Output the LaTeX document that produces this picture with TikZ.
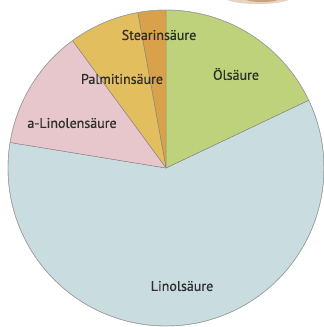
\documentclass[tikz,border=0pt]{standalone}
\usepackage{fontspec}
\setmainfont{PT Sans}
\newfontfamily\lblfont[FakeBold=0.6]{PT Sans}
\begin{document}
\begin{tikzpicture}[x=1pt,y=1pt,
  slice/.style={draw=black!50, line width=0.4pt, line join=round},
  lbl/.style={font=\lblfont\fontsize{14}{16}\selectfont, text=black!82, inner sep=0pt}]
\useasboundingbox (0,0) rectangle (324,327);
\fill[white] (0,0) rectangle (324,327);
\definecolor{linol}{HTML}{C9DDE0}
\definecolor{oel}{HTML}{BDD27A}
\definecolor{alin}{HTML}{E8C7CC}
\definecolor{palm}{HTML}{E3BE5E}
\definecolor{stear}{HTML}{D9A24A}
\definecolor{brownblur}{HTML}{B88150}
% faint cropped photo fragment at top
\begin{scope}
\clip (0,0) rectangle (324,327);
\fill[brownblur, opacity=0.35] (258,330) ellipse (34 and 7);
\fill[brownblur, opacity=0.6] (262,329) ellipse (18 and 4);
\end{scope}
\coordinate (c) at (166,159);
\def\R{158}
\fill[linol, slice] (c) -- ++(170.7:\R) arc (170.7:385.4:\R) -- cycle;
\fill[oel, slice] (c) -- ++(25.4:\R) arc (25.4:90:\R) -- cycle;
\fill[stear, slice] (c) -- ++(90:\R) arc (90:100.3:\R) -- cycle;
\fill[palm, slice] (c) -- ++(100.3:\R) arc (100.3:126.3:\R) -- cycle;
\fill[alin, slice] (c) -- ++(126.3:\R) arc (126.3:170.7:\R) -- cycle;
\draw[black!35, line width=0.5pt] (c) circle (\R);
\node[lbl] (stearin) at (159,292) {Stearinsäure};
\node[lbl] (palmitin) at (122,248) {Palmitinsäure};
\node[lbl] (oelsaeure) at (236,253) {Ölsäure};
\node[lbl] (alinolen) at (72,204) {a-Linolensäure};
\node[lbl] (linol) at (182,41) {Linolsäure};
\end{tikzpicture}
\end{document}
